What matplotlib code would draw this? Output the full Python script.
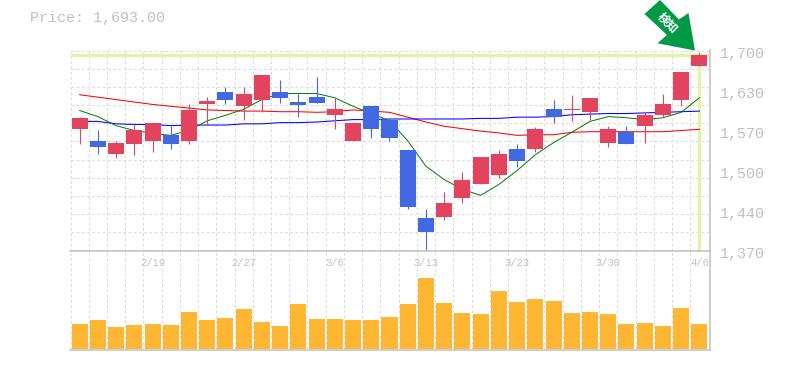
import numpy as np
import matplotlib
matplotlib.use("Agg")
import matplotlib.pyplot as plt
from matplotlib.patches import Polygon, Rectangle

W, H = 785, 370

# daily candles
opens = [1570, 1551, 1530, 1546, 1551, 1561, 1551, 1611, 1631, 1608, 1618, 1632, 1615, 1624, 1594, 1550, 1608, 1586,
         1535, 1423, 1426, 1456, 1479, 1494, 1537, 1538, 1604, 1601, 1599, 1548, 1566, 1575, 1593, 1619, 1674]
closes = [1588, 1540, 1548, 1568, 1580, 1546, 1601, 1616, 1618, 1629, 1659, 1622, 1610, 1614, 1603, 1581, 1571, 1556,
          1441, 1400, 1449, 1487, 1525, 1530, 1517, 1570, 1591, 1603, 1621, 1571, 1545, 1594, 1611, 1665, 1693]
highs = [1591, 1568, 1551, 1578, 1581, 1576, 1611, 1624, 1639, 1639, 1659, 1651, 1629, 1657, 1622, 1581, 1609, 1589,
         1535, 1438, 1466, 1499, 1525, 1535, 1545, 1573, 1618, 1627, 1621, 1576, 1576, 1598, 1629, 1665, 1698]
lows = [1546, 1530, 1522, 1527, 1533, 1537, 1545, 1578, 1611, 1585, 1599, 1614, 1591, 1614, 1570, 1550, 1556, 1550,
        1438, 1370, 1420, 1449, 1479, 1490, 1507, 1533, 1581, 1583, 1585, 1540, 1545, 1548, 1591, 1609, 1674]

# moving averages
ma_short = [1601, 1591, 1576, 1568, 1563, 1560, 1568, 1584, 1593, 1603, 1619, 1629, 1629, 1629, 1622, 1608, 1596, 1584,
            1551, 1509, 1487, 1471, 1461, 1479, 1502, 1528, 1548, 1565, 1583, 1591, 1589, 1586, 1589, 1598, 1622]
ma_mid = [1627, 1623, 1619, 1615, 1611, 1608, 1605, 1602, 1601, 1600, 1600, 1599, 1599, 1598, 1599, 1602, 1600, 1598,
          1590, 1582, 1575, 1571, 1567, 1564, 1560, 1561, 1561, 1565, 1566, 1566, 1566, 1566, 1566, 1568, 1570]
ma_long = [1583, 1583, 1579, 1578, 1578, 1576, 1577, 1577, 1577, 1579, 1579, 1581, 1581, 1582, 1584, 1586, 1586, 1587,
           1587, 1587, 1587, 1587, 1588, 1588, 1590, 1590, 1591, 1594, 1595, 1596, 1596, 1597, 1598, 1599, 1600]

volumes = [25, 29, 22, 24, 25, 24, 37, 29, 31, 40, 27, 23, 45, 30, 30, 29, 29, 32,
           45, 71, 46, 36, 35, 58, 47, 50, 48, 36, 37, 35, 25, 26, 23, 41, 25]

price_ticks = [1700, 1634, 1568, 1502, 1436, 1370]
price_labels = ["1,700", "1,630", "1,570", "1,500", "1,440", "1,370"]
date_ticks = [4, 9, 14, 19, 24, 29, 34]
date_labels = ["2/19", "2/27", "3/6", "3/13", "3/23", "3/30", "4/6"]
last_price = 1693
title = "Price: 1,693.00"
badge = "検知"

GRID = "#d9d9d9"
AXIS = "#c0c0c0"
TEXT = "#c0c0c0"
UP = "#e2445f"
DOWN = "#4169e1"
MONO = "Liberation Mono"

fig = plt.figure(figsize=(W / 100, H / 100), dpi=100)


def add_axes_px(x0, y0, x1, y1):
    return fig.add_axes([x0 / W, 1 - y1 / H, (x1 - x0) / W, (y1 - y0) / H])


ax = add_axes_px(70.5, 50.5, 708.5, 250.5)
ax_vol = add_axes_px(70.5, 250.5, 708.5, 348.5)

x = np.arange(len(closes))
for a in (ax, ax_vol):
    a.set_xlim(-0.5, len(closes) - 0.5)
    a.set_xticks(np.arange(-0.5, len(closes)))
    a.tick_params(length=0, labelbottom=False, labelleft=False)
    a.grid(axis="x", color=GRID, lw=0.75, ls=(0, (2.5, 2.5)), zorder=0)
    a.set_axisbelow(True)
    a.patch.set_alpha(0)
    for s in a.spines.values():
        s.set_visible(False)

# price panel
ax.set_ylim(1370, 1700)
ax.set_yticks(np.arange(1370, 1701, 30))
ax.grid(axis="y", color=GRID, lw=0.75, ls=(0, (2.5, 2.5)), zorder=0)

ax.hlines(last_price, -0.5, len(closes) - 0.5, color="#e0f5a0", lw=2.2, zorder=1)
ax.vlines(x[-1], 1370, last_price, color="#e0f5a0", lw=2.2, zorder=1)

ax.plot(x, ma_mid, color="#ff0000", lw=0.75, zorder=2)
ax.plot(x, ma_long, color="#0000ff", lw=0.75, zorder=2)
ax.plot(x, ma_short, color="#007a00", lw=0.7, zorder=2)

for i in x:
    c = UP if closes[i] >= opens[i] else DOWN
    ax.vlines(i, lows[i], highs[i], color=c, lw=0.8, zorder=3)
    bottom = min(opens[i], closes[i])
    ax.add_patch(Rectangle((i - 0.44, bottom), 0.88, abs(closes[i] - opens[i]), fc=c, ec="none", zorder=4))

# volume panel
ax_vol.set_ylim(0, 98)
ax_vol.bar(x, volumes, width=0.88, color="#ffb733", zorder=3)

# frame
fig.add_artist(plt.Line2D([70 / W, 710 / W], [1 - 250.5 / H] * 2, color=AXIS, lw=1.1))
fig.add_artist(plt.Line2D([70 / W, 710 / W], [1 - 349.5 / H] * 2, color=AXIS, lw=1.1))
fig.add_artist(plt.Line2D([709.5 / W] * 2, [1 - 50 / H, 1 - 350 / H], color=AXIS, lw=1.1))

# labels
for t, lab in zip(price_ticks, price_labels):
    ax.annotate(lab, (1, t), xycoords=ax.get_yaxis_transform(), xytext=(8.5, -2.2), textcoords="offset points",
                family=MONO, fontsize=10.8, color=TEXT, va="center", ha="left", annotation_clip=False)
for t, lab in zip(date_ticks, date_labels):
    ax_vol.text(t, 1 - 12 / 98, lab, transform=ax_vol.get_xaxis_transform(), family=MONO, fontsize=7.6,
                color=TEXT, ha="center", va="center", zorder=5)
fig.text(30 / W, 1 - 18 / H, title, family=MONO, fontsize=10.8, color=TEXT, va="center", ha="left")

# arrow badge, pixel outline from the reference
arrow_px = [(644.5, 14), (660, 0), (679, 19.5), (688.5, 13), (695, 50.5), (657.5, 43.3), (667, 35)]
fig.add_artist(Polygon([(px / W, 1 - py / H) for px, py in arrow_px], closed=True, fc="#009944", ec="none",
                       transform=fig.transFigure))
fig.text(667 / W, 1 - 22.5 / H, badge, family=["Noto Sans CJK JP", "DejaVu Sans"], fontsize=8.5, fontweight="bold",
         color="white", rotation=-45, rotation_mode="anchor", ha="center", va="center")

fig.savefig("out.png", dpi=100)
